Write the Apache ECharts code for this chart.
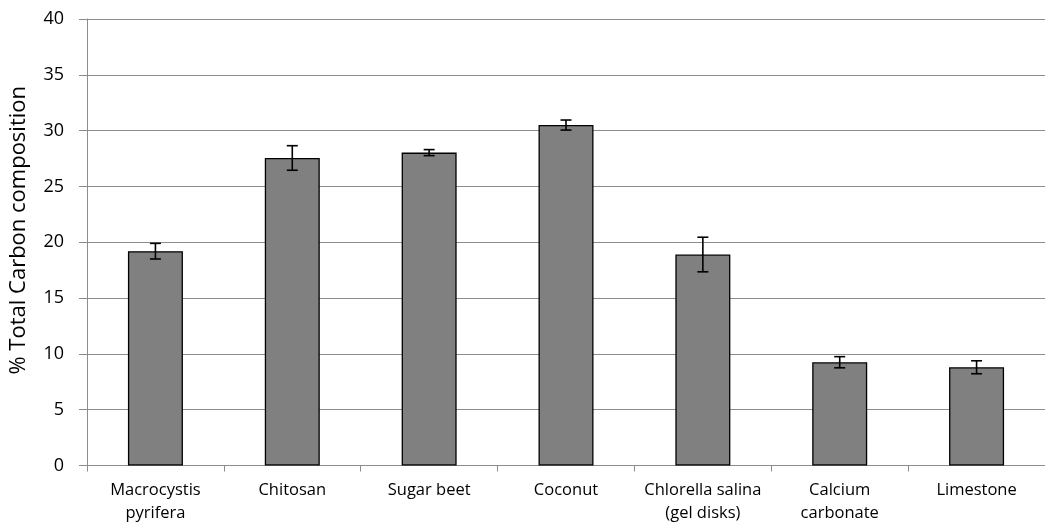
<!DOCTYPE html>
<html>
<head>
<meta charset="utf-8">
<script src="https://cdn.jsdelivr.net/npm/echarts@6/dist/echarts.min.js"></script>
<style>
  html, body { margin: 0; padding: 0; background: #fff; }
  #chart { width: 1045px; height: 527px; }
</style>
</head>
<body>
<div id="chart"></div>
<script>
// Carbon content of each sorbent material, with standard deviation
const categories = ['Macrocystis\npyrifera', 'Chitosan', 'Sugar beet', 'Coconut', 'Chlorella salina\n(gel disks)', 'Calcium\ncarbonate', 'Limestone'];
const carbonPct = [19.2, 27.55, 28.03, 30.5, 18.9, 9.25, 8.8];
const carbonSd = [0.7, 1.1, 0.27, 0.45, 1.55, 0.5, 0.58];
const yTicks = [0, 5, 10, 15, 20, 25, 30, 35, 40];

const FONT = '"Open Sans", "Liberation Sans", sans-serif';

const errorData = carbonPct.map((v, i) => [i, v - carbonSd[i], v + carbonSd[i]]);

const chart = echarts.init(document.getElementById('chart'), null, { renderer: 'canvas' });
chart.setOption({
  animation: false,
  backgroundColor: '#ffffff',
  grid: { left: 86, top: 19, width: 967.5, height: 446.5 },
  xAxis: {
    type: 'category',
    data: categories,
    axisLine: { lineStyle: { color: '#8c8c8c', width: 1 } },
    axisTick: { show: true, length: 6, alignWithLabel: false, lineStyle: { color: '#8c8c8c' } },
    axisLabel: { color: '#000', fontFamily: FONT, fontSize: 16.5, lineHeight: 23, margin: 13, interval: 0 }
  },
  yAxis: {
    type: 'value',
    min: yTicks[0],
    max: yTicks[yTicks.length - 1],
    interval: 5,
    name: '% Total Carbon composition',
    nameLocation: 'middle',
    nameGap: 57,
    nameTextStyle: { color: '#000', fontFamily: FONT, fontSize: 22, padding: [0, 0, 0, 24] },
    axisLine: { show: true, lineStyle: { color: '#8c8c8c', width: 1 } },
    axisTick: { show: true, length: 8, inside: false, lineStyle: { color: '#8c8c8c' } },
    axisLabel: { color: '#000', fontFamily: FONT, fontSize: 18, margin: 23 },
    splitLine: { show: true, lineStyle: { color: '#8c8c8c', width: 1 } }
  },
  series: [
    {
      type: 'bar',
      data: carbonPct,
      barWidth: 55,
      itemStyle: { color: '#808080', borderColor: '#000', borderWidth: 1.3 }
    },
    {
      type: 'custom',
      data: errorData,
      z: 10,
      renderItem: function (params, api) {
        const x = api.coord([api.value(0), api.value(1)])[0];
        const yLow = api.coord([api.value(0), api.value(1)])[1];
        const yHigh = api.coord([api.value(0), api.value(2)])[1];
        const half = 5.5;
        const style = { stroke: '#000', lineWidth: 1.6 };
        return {
          type: 'group',
          children: [
            { type: 'line', shape: { x1: x, y1: yHigh, x2: x, y2: yLow }, style: style },
            { type: 'line', shape: { x1: x - half, y1: yHigh, x2: x + half, y2: yHigh }, style: style },
            { type: 'line', shape: { x1: x - half, y1: yLow, x2: x + half, y2: yLow }, style: style }
          ]
        };
      }
    }
  ]
});
</script>
</body>
</html>
